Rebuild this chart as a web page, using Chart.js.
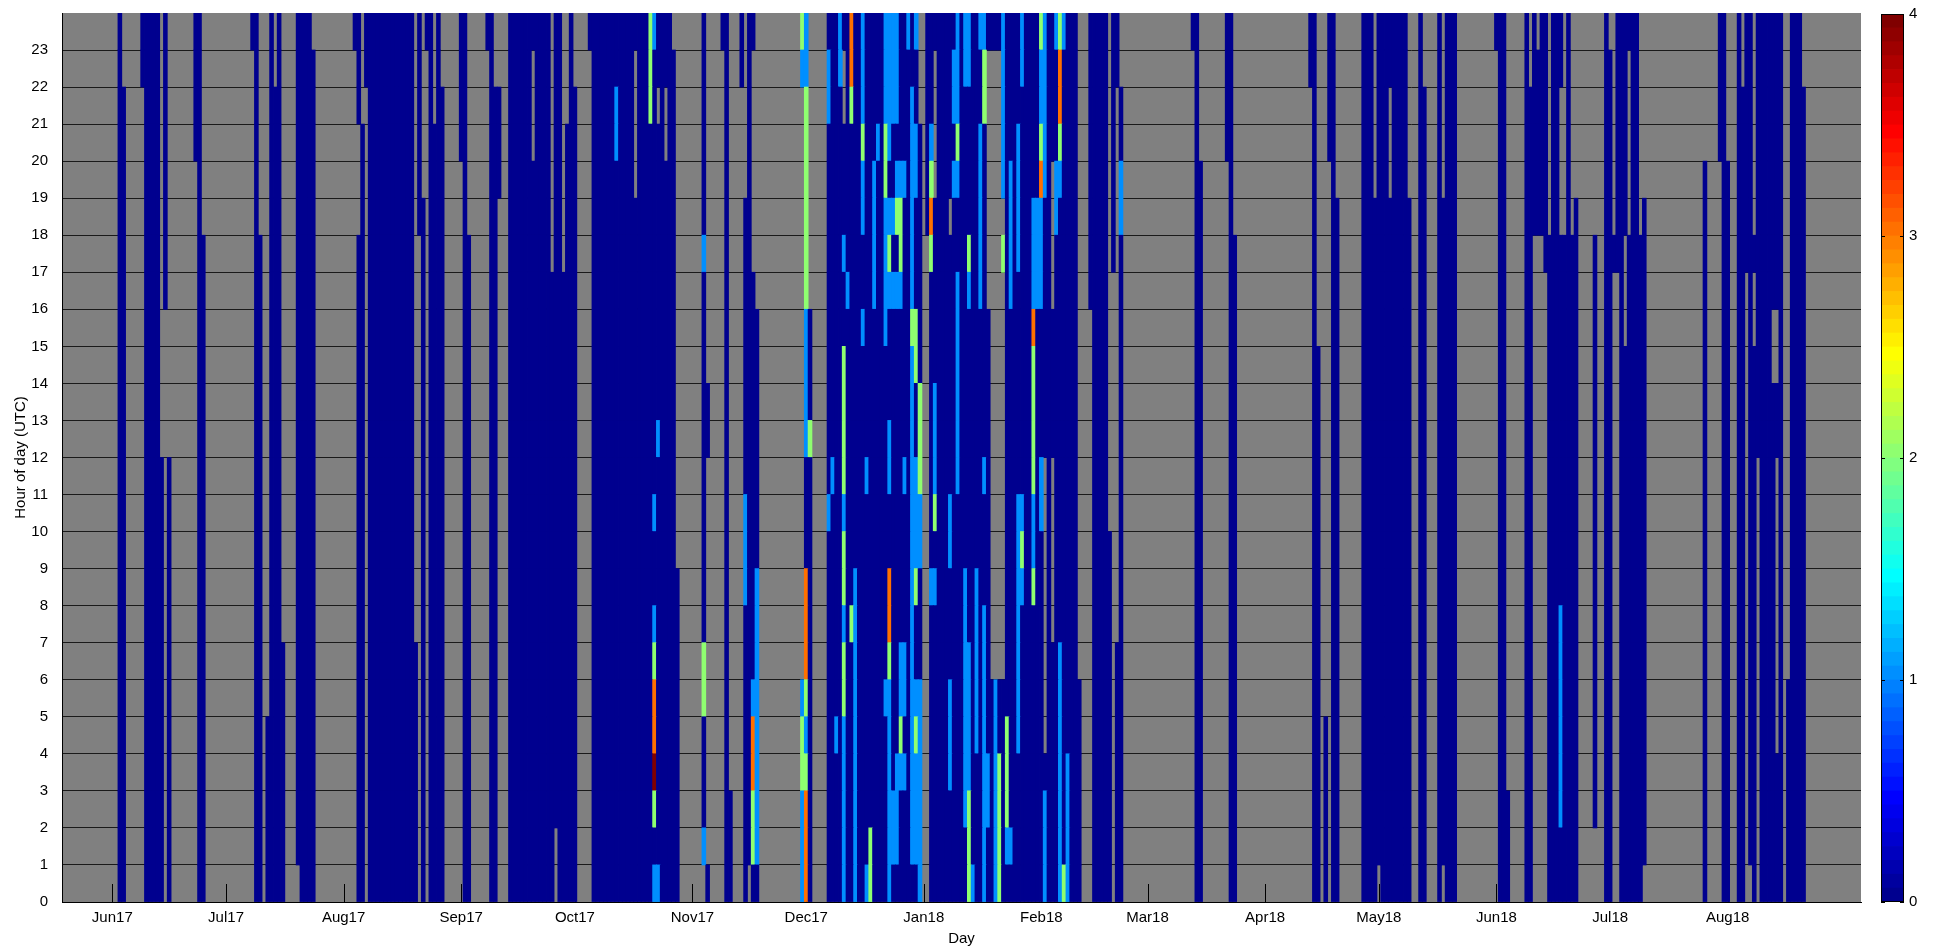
<!DOCTYPE html>
<html>
<head>
<meta charset="utf-8">
<title>Hourly values by day</title>
<script src="https://cdn.jsdelivr.net/npm/chart.js@4.4.1/dist/chart.umd.min.js"></script>
<style>
  html, body { margin: 0; padding: 0; background: #ffffff; }
  #frame { position: relative; width: 1942px; height: 952px; overflow: hidden; }
  #heat { position: absolute; left: 0; top: 0; }
  #cbar { position: absolute; left: 1871px; top: 0; }
</style>
</head>
<body>
<div id="frame">
  <canvas id="heat" width="1942" height="952"></canvas>
  <canvas id="cbar" width="71" height="952"></canvas>
</div>
<script>
// Day 0 is 1 June 2017; one column per day, one row per UTC hour.
const monthTickDays = [0, 30, 61, 92, 122, 153, 183, 214, 245, 273, 304, 334, 365, 395, 426];
const monthTickLabels = ['Jun17', 'Jul17', 'Aug17', 'Sep17', 'Oct17', 'Nov17', 'Dec17',
  'Jan18', 'Feb18', 'Mar18', 'Apr18', 'May18', 'Jun18', 'Jul18', 'Aug18'];
const dayAxisRange = [-13.26, 461.15];
const hourAxisRange = [0, 24];
const colorbarTicks = [0, 1, 2, 3, 4];
const colorRange = [0, 4];

// Cell codes ('.' = no data).
const codeValues = { '0': 0, 'b': 1, 'g': 2, 'o': 3, 'r': 3.3, 'd': 4 };

// [first day, last day, column]. A column lists runs from hour 23 down to hour 0,
// each run written as <code><number of hours>. Days not listed have no data.
const dayColumns = [
  [2, 2, '024'],
  [3, 3, '.2 022'],
  [8, 8, '02 .22'],
  [9, 12, '024'],
  [13, 13, '.12 012'],
  [14, 14, '08 .16'],
  [15, 15, '.12 012'],
  [22, 22, '04 .20'],
  [23, 23, '024'],
  [24, 24, '.6 018'],
  [37, 37, '01 .23'],
  [38, 38, '024'],
  [39, 39, '.6 018'],
  [41, 41, '.19 05'],
  [42, 42, '024'],
  [43, 43, '.2 022'],
  [44, 44, '024'],
  [45, 45, '.17 07'],
  [49, 49, '023 .1'],
  [50, 52, '024'],
  [53, 53, '.1 023'],
  [64, 64, '01 .23'],
  [65, 65, '03 .3 018'],
  [66, 66, '.3 021'],
  [67, 67, '02 .22'],
  [68, 79, '024'],
  [80, 80, '.17 07'],
  [81, 81, '06 .18'],
  [82, 82, '.5 019'],
  [83, 83, '01 .23'],
  [84, 84, '024'],
  [85, 85, '.3 021'],
  [86, 86, '024'],
  [87, 87, '.2 022'],
  [92, 92, '04 .20'],
  [93, 93, '024'],
  [94, 94, '.6 018'],
  [99, 99, '01 .23'],
  [100, 100, '024'],
  [101, 101, '.2 022'],
  [102, 102, '.2 03 .19'],
  [105, 110, '024'],
  [111, 111, '01 .3 020'],
  [112, 115, '024'],
  [116, 116, '.7 017'],
  [117, 117, '022 .2'],
  [118, 118, '024'],
  [119, 119, '.7 017'],
  [120, 120, '.3 021'],
  [121, 121, '024'],
  [122, 122, '.2 022'],
  [126, 126, '01 .23'],
  [127, 132, '024'],
  [133, 133, '02 b2 020'],
  [134, 137, '024'],
  [138, 138, '01 .4 019'],
  [139, 141, '024'],
  [142, 142, 'g3 021'],
  [143, 143, 'b1 012 b1 02 b1 g1 o2 d1 g1 01 b1'],
  [144, 144, '02 .1 08 b1 011 b1'],
  [145, 145, '024'],
  [146, 146, '02 .2 020'],
  [147, 147, '024'],
  [148, 148, '.1 023'],
  [149, 149, '.15 09'],
  [156, 156, '06 b1 010 g2 03 b1 .1'],
  [157, 157, '.10 02 .11 01'],
  [161, 161, '01 .23'],
  [162, 162, '024'],
  [163, 163, '.21 03'],
  [166, 166, '02 .22'],
  [167, 167, '.5 08 b3 08'],
  [168, 168, '023 .1'],
  [169, 169, '01 .6 011 b1 o2 g2 01'],
  [170, 170, '.8 07 b8 01'],
  [259, 262, '024'],
  [263, 263, '.14 010'],
  [264, 264, '07 .17'],
  [265, 265, '02 .15 07'],
  [266, 266, '.2 02 b2 018'],
  [285, 285, '01 .23'],
  [286, 286, '024'],
  [287, 287, '.4 020'],
  [294, 294, '04 .20'],
  [295, 295, '024'],
  [296, 296, '.6 018'],
  [316, 316, '02 .22'],
  [317, 317, '024'],
  [318, 318, '.9 015'],
  [320, 320, '.19 05'],
  [321, 321, '04 .20'],
  [322, 322, '024'],
  [323, 323, '.5 019'],
  [330, 332, '024'],
  [333, 333, '.5 019'],
  [334, 334, '023 .1'],
  [335, 336, '024'],
  [337, 337, '02 .3 019'],
  [338, 341, '024'],
  [342, 342, '.5 019'],
  [345, 345, '024'],
  [346, 346, '.2 022'],
  [350, 350, '024'],
  [351, 351, '.5 018 .1'],
  [352, 354, '024'],
  [365, 365, '01 .23'],
  [366, 367, '024'],
  [368, 368, '.21 03'],
  [373, 373, '024'],
  [374, 374, '.2 022'],
  [375, 375, '06 .18'],
  [376, 376, '.1 05 .18'],
  [377, 377, '06 .18'],
  [378, 378, '07 .17'],
  [379, 379, '.6 018'],
  [380, 381, '024'],
  [382, 382, '02 .4 010 b6 02'],
  [383, 383, '.6 018'],
  [384, 384, '024'],
  [385, 385, '.6 018'],
  [386, 386, '.5 019'],
  [391, 391, '.6 016 .2'],
  [394, 394, '024'],
  [395, 395, '.1 023'],
  [396, 396, '.6 01 .17'],
  [397, 397, '07 .17'],
  [398, 398, '024'],
  [399, 399, '06 .3 015'],
  [400, 400, '01 .5 018'],
  [401, 402, '024'],
  [403, 403, '.6 018'],
  [404, 404, '.5 018 .1'],
  [420, 420, '.4 020'],
  [424, 424, '04 .20'],
  [425, 425, '024'],
  [426, 426, '.4 020'],
  [429, 429, '024'],
  [430, 430, '.2 022'],
  [431, 431, '07 .17'],
  [432, 432, '023 .1'],
  [433, 433, '.6 01 .2 015'],
  [434, 434, '012 .12'],
  [435, 437, '024'],
  [438, 438, '08 .2 014'],
  [439, 439, '08 .2 02 .8 04'],
  [440, 440, '024'],
  [442, 442, '.18 06'],
  [443, 445, '024'],
  [446, 446, '.2 022']
];

// Busy winter period, one string per consecutive day from winterFirstDay,
// cells from hour 23 down to hour 0 (grouped by six hours for reading).
const winterFirstDay = 182;
const winterColumns = [
  'gb.... ...... ...... bggbbb', // 182
  'bbgggg ggbbbb 000ooo gbgooo',
  '...... ..000g 000000 000000',
  '...... ...... ...... ......',
  '...... ...... ...... ......',
  '...... ...... ...... ......',
  '...... ...... ...... ......',
  '0bb000 000000 0b0000 000000',
  '000000 000000 b00000 000000', // 190
  '000000 000000 000000 0b0000',
  'bb0000 000000 000000 000000',
  '0..000 b00ggg gbggbg gbbbbb',
  '000000 0b0000 000000 000000',
  'oog000 000000 0000g0 000000',
  '000000 000000 000bbb bbbbbb',
  '000000 000000 000000 000000',
  'bbbgbb 00b000 000000 000000',
  '000000 000000 b00000 00000b',
  '000000 000000 000000 0000gg', // 200
  '0000bb bb0000 000000 000000',
  '000b00 000000 000000 000000',
  '000000 000000 000000 000000',
  'bbbggb bbb000 000000 b00000',
  'bbbb0b gb000b b00oog bbbbbb',
  'bbb00b 0b0000 000000 000bb0',
  'bbb0bg 0b0000 000000 00bbb0',
  '0000bg gb0000 00000b bgb000',
  '0000b0 000000 b0000b b0b000',
  'b00000 000000 000000 000000', // 210
  '00bbbb bbgbbb bbbbbb bbbbb0',
  'b00bb0 00gg00 bbbg00 bgbbb0',
  '...000 0000gg gbb000 bbbbbb',
  '...... ...... ...... ......',
  '000000 ...... ...... ......',
  '000bgo g00000 000b00 000000',
  '0....0 0000bb bg0b00 000000',
  '000000 000000 000000 000000',
  '000000 000000 000000 000000',
  '000000 000000 000000 000000', // 220
  '00000. 000000 0bb000 bbb000',
  '0bb0b0 000000 000000 000000',
  'bbbgb0 0bbbbb b00000 000000',
  '000000 000000 000000 000000',
  'bb0000 000000 000bbb bbbb00',
  'bb0000 gb0000 00000b bbbggg',
  '000000 000000 000000 00000b',
  '000000 000000 000bbb bb0000',
  'b00bbb bb0000 000000 000000',
  'bgg000 000000 b000bb bbbbbb', // 230
  '0..... ..0000 000000 00bb00',
  '0..... ...... ...... 000000',
  '0..... ...... ...... bbbbbb',
  '0..... ...... ...... 00gggg',
  'bbbbb. g..... ...... 000000',
  '000000 000000 000000 0gggb0',
  '0000bb bb0000 000000 0000b0',
  '000000 000000 000000 000000',
  '000bbb b00000 0bbbbb bb0000',
  'bb0000 000000 0bgb00 000000', // 240
  '000000 000000 000000 000000',
  '000000 000000 000000 000000',
  '00000b bboggg gbbg00 000000',
  '00000b bb0000 000000 000000',
  'gbbgob bb0000 bb0000 000000',
  'bbbbb0 000000 ...... ..0bbb',
  '000000 000000 000000 000000',
  '0000.. ..0000 .....0 000000',
  'b000bb 000000 000000 000000',
  'googb0 000000 00000b bbbbbb', // 250
  'b00000 000000 000000 00000g',
  '000000 000000 000000 00bbbb',
  '000000 000000 000000 000000',
  '000000 000000 000000 000000',
  '...... ...... ...... 000000',
  '...... ...... ...... ......',
  '...... ...... ...... ......',
  '000000 00.... ...... ......'  // 258
];

// MATLAB-style jet colormap with 64 steps over colorRange.
function jetColor(v) {
  const m = 64;
  let idx = Math.floor((v - colorRange[0]) / (colorRange[1] - colorRange[0]) * m) + 1;
  idx = Math.max(1, Math.min(m, idx));
  const u = j => (j < 1 || j > 47) ? 0 : (j <= 16 ? j / 16 : (j <= 31 ? 1 : (48 - j) / 16));
  const r = u(idx - 24), g = u(idx - 8), b = u(idx + 8);
  return 'rgb(' + Math.round(r * 255) + ',' + Math.round(g * 255) + ',' + Math.round(b * 255) + ')';
}

function parseRuns(spec) {
  const cells = [];
  spec.trim().split(/\s+/).forEach(tok => {
    const code = tok[0];
    const n = parseInt(tok.slice(1), 10);
    for (let i = 0; i < n; i++) cells.push(code);
  });
  if (cells.length !== 24) console.warn('column length', cells.length, spec);
  return cells.slice(0, 24);
}

// One dataset per hour row; each cell is a floating bar spanning [h, h+1].
const hourRows = Array.from({ length: 24 }, () => []);
function addColumn(day, cells) {
  cells.slice(0, 24).forEach((code, i) => {
    if (code === '.' || !(code in codeValues)) return;
    const h = 23 - i;
    hourRows[h].push({ x: day, y: [h, h + 1], v: codeValues[code] });
  });
}
dayColumns.forEach(([first, last, spec]) => {
  const cells = parseRuns(spec);
  for (let d = first; d <= last; d++) addColumn(d, cells);
});
winterColumns.forEach((col, k) => {
  const cells = col.replace(/\s+/g, '').split('');
  if (cells.length !== 24) console.warn('winter column length', k, cells.length);
  addColumn(winterFirstDay + k, cells);
});

const labelFont = { family: '"Liberation Sans", Arial, Helvetica, sans-serif', size: 15 };

const plotBackground = {
  id: 'plotBackground',
  beforeDraw(chart) {
    const { ctx, chartArea: a } = chart;
    ctx.save();
    ctx.fillStyle = '#ffffff';
    ctx.fillRect(0, 0, chart.width, chart.height);
    ctx.fillStyle = '#808080';
    ctx.fillRect(a.left, a.top, a.right - a.left, a.bottom - a.top);
    ctx.restore();
  }
};

// Month tick marks point up into the plot and sit beneath the cells.
const insideMonthTicks = {
  id: 'insideMonthTicks',
  beforeDatasetsDraw(chart) {
    const { ctx, chartArea: a, scales: { x } } = chart;
    ctx.save();
    ctx.strokeStyle = '#000000';
    ctx.lineWidth = 1;
    ctx.beginPath();
    monthTickDays.forEach(d => {
      const px = Math.round(x.getPixelForValue(d)) + 0.5;
      ctx.moveTo(px, a.bottom);
      ctx.lineTo(px, a.bottom - 18);
    });
    ctx.stroke();
    ctx.restore();
  }
};

new Chart(document.getElementById('heat'), {
  type: 'bar',
  data: {
    datasets: hourRows.map((points, h) => ({
      label: h + ':00',
      data: points,
      backgroundColor: ctx => (ctx.raw ? jetColor(ctx.raw.v) : 'rgba(0,0,0,0)'),
      borderWidth: 0,
      grouped: false,
      barPercentage: 1,
      categoryPercentage: 1,
      inflateAmount: 0.4
    }))
  },
  options: {
    responsive: false,
    animation: false,
    devicePixelRatio: 1,
    layout: { padding: { top: 13, right: 81, left: 0, bottom: 0 } },
    plugins: { legend: { display: false }, tooltip: { enabled: false } },
    scales: {
      x: {
        type: 'linear',
        min: dayAxisRange[0],
        max: dayAxisRange[1],
        offset: false,
        afterFit: s => { s.height = 50; s.paddingLeft = 0; s.paddingRight = 0; },
        afterBuildTicks: s => { s.ticks = monthTickDays.map(v => ({ value: v })); },
        ticks: {
          autoSkip: false, maxRotation: 0, minRotation: 0, padding: 7,
          font: labelFont, color: '#000000',
          callback: v => monthTickLabels[monthTickDays.indexOf(v)] || ''
        },
        grid: { display: false, drawTicks: false },
        border: { display: true, color: '#000000', width: 1, z: 1 },
        title: { display: true, text: 'Day', font: labelFont, color: '#000000', padding: { top: 0, bottom: 4 } }
      },
      y: {
        type: 'linear',
        min: hourAxisRange[0],
        max: hourAxisRange[1],
        afterFit: s => { s.width = 62; s.paddingTop = 0; s.paddingBottom = 0; },
        ticks: {
          stepSize: 1, autoSkip: false, padding: 14,
          font: labelFont, color: '#000000',
          callback: v => (v < hourAxisRange[1] ? String(v) : '')
        },
        grid: {
          drawTicks: false,
          lineWidth: 1,
          color: ctx => (ctx.tick && ctx.tick.value >= hourAxisRange[1] ? 'rgba(0,0,0,0)' : '#1a1a1a')
        },
        border: { display: true, color: '#000000', width: 1, z: 1 },
        title: { display: true, text: 'Hour of day (UTC)', font: labelFont, color: '#000000', padding: { top: 12, bottom: 0 } }
      }
    }
  },
  plugins: [plotBackground, insideMonthTicks]
});

// Colour bar: 64 stacked steps of the colormap with a value axis on the right.
const colorbarFrame = {
  id: 'colorbarFrame',
  afterDatasetsDraw(chart) {
    const { ctx, chartArea: a, scales: { y } } = chart;
    ctx.save();
    ctx.strokeStyle = '#000000';
    ctx.lineWidth = 1;
    ctx.strokeRect(Math.round(a.left) + 0.5, Math.round(a.top) + 0.5,
      Math.round(a.right - a.left) - 1, Math.round(a.bottom - a.top) - 1);
    ctx.beginPath();
    colorbarTicks.forEach(v => {
      const py = Math.round(y.getPixelForValue(v)) + 0.5;
      ctx.moveTo(a.left, py); ctx.lineTo(a.left + 4, py);
      ctx.moveTo(a.right, py); ctx.lineTo(a.right - 4, py);
    });
    ctx.stroke();
    ctx.restore();
  }
};

const colorSteps = 64;
new Chart(document.getElementById('cbar'), {
  type: 'bar',
  data: {
    labels: [''],
    datasets: Array.from({ length: colorSteps }, (_, i) => {
      const span = colorRange[1] - colorRange[0];
      const lo = colorRange[0] + span * i / colorSteps;
      const hi = colorRange[0] + span * (i + 1) / colorSteps;
      return {
        data: [[lo, hi]],
        backgroundColor: jetColor((lo + hi) / 2),
        borderWidth: 0,
        grouped: false,
        barPercentage: 1,
        categoryPercentage: 1,
        inflateAmount: 0.4
      };
    })
  },
  options: {
    responsive: false,
    animation: false,
    devicePixelRatio: 1,
    layout: { padding: { top: 13, bottom: 50, left: 10, right: 0 } },
    plugins: { legend: { display: false }, tooltip: { enabled: false } },
    scales: {
      x: { display: false },
      y: {
        position: 'right',
        min: colorRange[0],
        max: colorRange[1],
        afterFit: s => { s.width = 38; },
        afterBuildTicks: s => { s.ticks = colorbarTicks.map(v => ({ value: v })); },
        ticks: { padding: 5, font: labelFont, color: '#000000' },
        grid: { display: false, drawTicks: false },
        border: { display: false }
      }
    }
  },
  plugins: [colorbarFrame]
});
</script>
</body>
</html>
